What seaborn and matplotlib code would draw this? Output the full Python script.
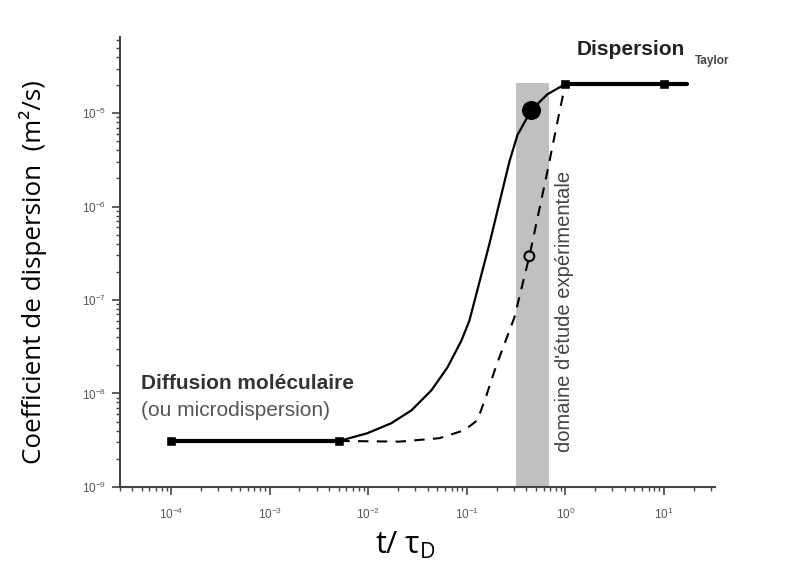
import numpy as np
import pandas as pd
import matplotlib
matplotlib.use("Agg")
import matplotlib.pyplot as plt
import matplotlib.ticker as mticker
import seaborn as sns

sns.set_theme(style="white")
plt.rcParams['font.family'] = ['Liberation Sans', 'DejaVu Sans']
plt.rcParams['mathtext.fontset'] = 'custom'
plt.rcParams['mathtext.rm'] = 'Liberation Sans'
plt.rcParams['mathtext.it'] = 'Liberation Sans:italic'

# --- data ---
diff_x = [1e-4, 5.08e-3]
diff_y = [3.1e-9, 3.1e-9]
taylor_x = [1.0, 10.0, 17.0]
taylor_y = [2.05e-5, 2.05e-5, 2.05e-5]
solid_x = [5.08e-3, 9.77e-3, 1.71e-2, 2.74e-2, 4.37e-2, 6.34e-2, 8.79e-2, 0.106, 0.169,
           0.270, 0.326, 0.452, 0.656, 1.0]
solid_y = [3.1e-9, 3.75e-9, 4.80e-9, 6.59e-9, 1.08e-8, 1.89e-8, 3.66e-8, 5.98e-8, 3.94e-7,
           3.01e-6, 5.83e-6, 1.08e-5, 1.59e-5, 2.05e-5]
dashed_x = [5.08e-3, 2.07e-2, 5.26e-2, 9.44e-2, 0.128, 0.158, 0.199, 0.303, 0.431, 0.656,
            0.869, 1.0]
dashed_y = [3.1e-9, 3.05e-9, 3.32e-9, 4.04e-9, 5.16e-9, 9.52e-9, 1.99e-8, 6.44e-8, 2.94e-7,
            2.36e-6, 1.02e-5, 2.05e-5]
filled_pt = (0.452, 1.08e-5)
open_pt = (0.431, 2.94e-7)
band_x = (0.316, 0.68)
band_top = 2.1e-5
xlim = (3.0e-5, 33.0)
ylim = (1e-9, 6.5e-5)
xticks = [1e-4, 1e-3, 1e-2, 1e-1, 1e0, 1e1]
yticks = [1e-9, 1e-8, 1e-7, 1e-6, 1e-5]

fig = plt.figure(figsize=(7.98, 5.81), dpi=100)
ax = fig.add_axes([0.150, 0.162, 0.746, 0.774])
ax.set_xscale('log')
ax.set_yscale('log')
ax.set_xlim(*xlim)
ax.set_ylim(*ylim)

# shaded experimental domain
ax.fill_between(list(band_x), [ylim[0]] * 2, [band_top] * 2, color='#c0c0c0', lw=0, zorder=1)

sns.lineplot(x=solid_x, y=solid_y, ax=ax, color='black', lw=1.6, sort=False, estimator=None, zorder=3)
sns.lineplot(x=dashed_x, y=dashed_y, ax=ax, color='black', lw=1.5, sort=False, estimator=None,
             linestyle=(0, (5, 4)), zorder=3)
sns.lineplot(x=diff_x, y=diff_y, ax=ax, color='black', lw=3.0, sort=False, estimator=None, zorder=4)
sns.scatterplot(x=diff_x, y=diff_y, ax=ax, color='black', marker='s', s=28, edgecolor='black', zorder=5)
sns.lineplot(x=taylor_x, y=taylor_y, ax=ax, color='black', lw=3.0, sort=False, estimator=None, zorder=4)
sns.scatterplot(x=taylor_x[:2], y=taylor_y[:2], ax=ax, color='black', marker='s', s=28, edgecolor='black', zorder=5)
sns.scatterplot(x=[filled_pt[0]], y=[filled_pt[1]], ax=ax, color='black', s=160, edgecolor='black', zorder=6)
sns.scatterplot(x=[open_pt[0]], y=[open_pt[1]], ax=ax, facecolor='none', edgecolor='black', linewidth=1.5,
                s=50, zorder=6)

# axes styling
for s in ['top', 'right']:
    ax.spines[s].set_visible(False)
for s in ['left', 'bottom']:
    ax.spines[s].set_color('#444444')
    ax.spines[s].set_linewidth(1.5)
ax.set_xticks(xticks)
ax.set_yticks(yticks)
ax.xaxis.set_minor_locator(mticker.LogLocator(base=10, subs=np.arange(2, 10), numticks=20))
ax.yaxis.set_minor_locator(mticker.LogLocator(base=10, subs=np.arange(2, 10), numticks=20))
ax.xaxis.set_minor_formatter(mticker.NullFormatter())
ax.yaxis.set_minor_formatter(mticker.NullFormatter())
ax.xaxis.set_major_formatter(mticker.LogFormatterMathtext())
ax.yaxis.set_major_formatter(mticker.LogFormatterMathtext())
ax.tick_params(axis='both', which='major', direction='out', length=6, width=1.2, color='#444444',
               labelsize=8.5, labelcolor='#555555', bottom=True, left=True)
ax.tick_params(axis='both', which='minor', direction='out', length=3, width=1.0, color='#444444',
               bottom=True, left=True)
ax.tick_params(axis='x', which='major', pad=8)
ax.tick_params(axis='y', which='major', pad=4)

ax.set_xlabel(r't/ $\mathregular{\tau_D}$', fontsize=22, family='Open Sans', color='black')
ax.set_ylabel('Coefficient de dispersion  (m²/s)', fontsize=18.7, family='Open Sans', color='black')
ax.xaxis.set_label_coords(0.48, -0.095)
ax.yaxis.set_label_coords(-0.122, 0.478)

# annotations
ax.text(4.95e-5, 1.28e-8, 'Diffusion moléculaire', fontsize=15, fontweight='bold', color='#333333',
        ha='left', va='center')
ax.text(4.95e-5, 6.59e-9, '(ou microdispersion)', fontsize=15, color='#555555', ha='left', va='center')
ax.text(1.29, 4.8e-5, 'Dispersion', fontsize=15, fontweight='bold', color='#222222', ha='left', va='center')
ax.text(20.4, 3.57e-5, 'Taylor', fontsize=8.5, fontweight='bold', color='#444444', ha='left', va='center')
ax.text(0.977, 7.6e-8, "domaine d'étude expérimentale", fontsize=14.5, color='#444444', rotation=90,
        ha='center', va='center')

fig.savefig('out.png', dpi=100)
